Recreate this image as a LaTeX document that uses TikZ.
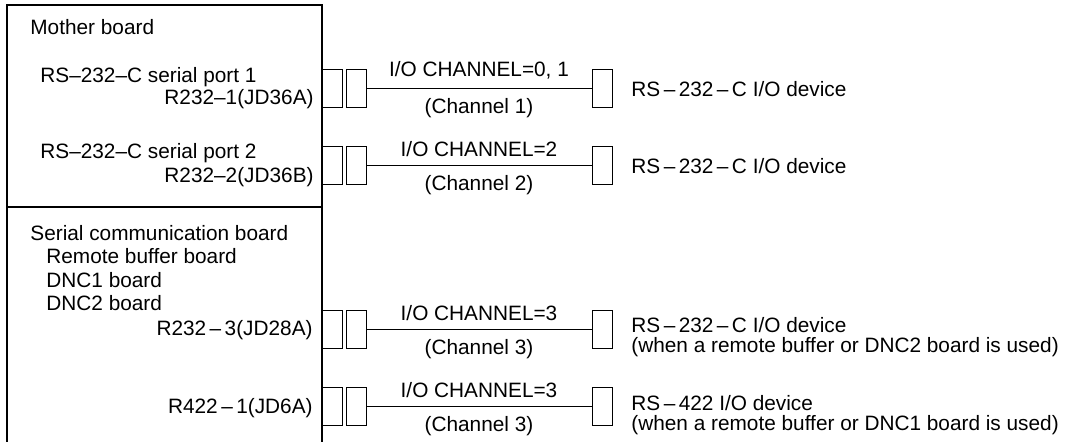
\documentclass[tikz,border=0pt]{standalone}
\usepackage{fontspec}
\setmainfont{Liberation Sans}
\usetikzlibrary{positioning}

\begin{document}
\begin{tikzpicture}[
  x=0.5pt, y=-0.5pt,
  every node/.style={
    inner sep=0pt,
    font=\fontsize{10.4}{10}\selectfont
  },
  plug/.style={
    draw,
    line width=0.5pt,
    minimum width=10pt,
    minimum height=19pt
  },
  wire/.style={line width=0.5pt},
  board/.style={line width=1pt}
]
  \useasboundingbox (0,0) rectangle (1066,442);

  % boards
  \draw[board] (7,442) -- (7,5) -- (322,5) -- (322,442);
  \draw[board] (7,207) -- (322,207);

  \node[anchor=west] (mb) at (30,27) {Mother board};
  \node[anchor=west] (sp1) at (40,77) {RS--232--C serial port 1};
  \node[anchor=east] (jd36a) at (314,99) {R232--1(JD36A)};
  \node[anchor=west] (sp2) at (40,153) {RS--232--C serial port 2};
  \node[anchor=east] (jd36b) at (314,177) {R232--2(JD36B)};

  \node[anchor=west] (scb) at (30,233) {Serial communication board};
  \node[anchor=west] (rbb) at (46,256) {Remote buffer board};
  \node[anchor=west] (dnc1) at (46,280) {DNC1 board};
  \node[anchor=west] (dnc2) at (46,303) {DNC2 board};
  \node[anchor=east] (jd28a) at (313,330) {R232\,–\,3(JD28A)};
  \node[anchor=east] (jd6a) at (313,408) {R422\,–\,1(JD6A)};

  % connectors
  \node[plug] (s1) at (332,89) {};
  \node[plug] (p1) at (356,89) {};
  \node[plug] (d1) at (602,89) {};
  \node[plug] (s2) at (332,166) {};
  \node[plug] (p2) at (356,166) {};
  \node[plug] (d2) at (602,166) {};
  \node[plug] (s3) at (332,330) {};
  \node[plug] (p3) at (356,330) {};
  \node[plug] (d3) at (602,330) {};
  \node[plug] (s4) at (332,407) {};
  \node[plug] (p4) at (356,407) {};
  \node[plug] (d4) at (602,407) {};

  \draw[wire] (p1) -- node[above=4.5pt] {I/O CHANNEL=0, 1} node[below=4.5pt] {(Channel 1)} (d1);
  \draw[wire] (p2) -- node[above=4.5pt] {I/O CHANNEL=2} node[below=4.5pt] {(Channel 2)} (d2);
  \draw[wire] (p3) -- node[above=4.5pt] {I/O CHANNEL=3} node[below=4.5pt] {(Channel 3)} (d3);
  \draw[wire] (p4) -- node[above=4.5pt] {I/O CHANNEL=3} node[below=4.5pt] {(Channel 3)} (d4);

  % devices
  \node[anchor=west] (dev1) at (631,89) {RS\,–\,232\,–\,C I/O device};
  \node[anchor=west] (dev2) at (631,166) {RS\,–\,232\,–\,C I/O device};
  \node[anchor=west, align=left] (dev3) at (631,337)
    {RS\,–\,232\,–\,C I/O device\\(when a remote buffer or DNC2 board is used)};
  \node[anchor=west, align=left] (dev4) at (631,415)
    {RS\,–\,422 I/O device\\(when a remote buffer or DNC1 board is used)};
\end{tikzpicture}
\end{document}
